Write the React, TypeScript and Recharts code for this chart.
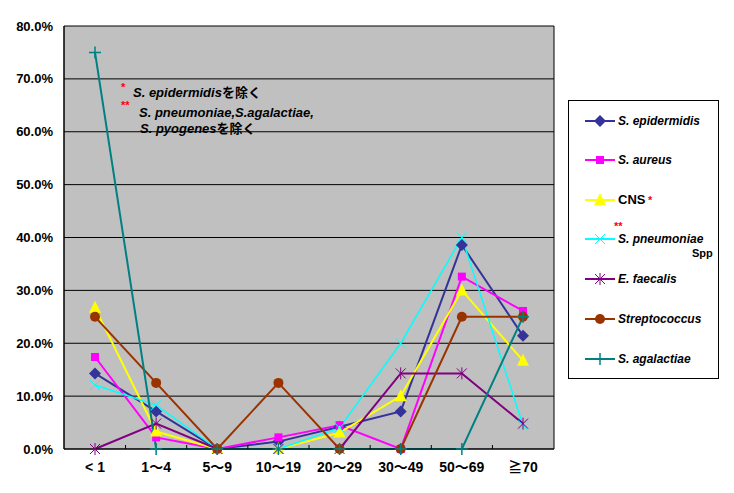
import React from 'react';
import { LineChart, Line, XAxis, YAxis, CartesianGrid } from 'recharts';

const categories = ['< 1', '1～4', '5～9', '10～19', '20～29', '30～49', '50～69', '≧70'];
const yTicks = [0, 10, 20, 30, 40, 50, 60, 70, 80];

const epidermidis = [14.3, 7.1, 0, 1.4, 4.2, 7.1, 38.6, 21.4];
const aureus = [17.4, 2.2, 0, 2.2, 4.5, 0, 32.6, 26.1];
const cns = [26.7, 3.3, 0, 0, 3.1, 10.0, 30.0, 16.7];
const pneumoniae = [12.1, 8.3, 0, 0, 4.0, 20.0, 40.0, 4.5];
const faecalis = [0, 4.8, 0, 0, 0, 14.3, 14.3, 4.8];
const streptococcus = [25, 12.5, 0, 12.5, 0, 0, 25, 25];
const agalactiae = [75, 0, 0, 0, 0, 0, 0, 25];

const data = categories.map((name, i) => ({
  name,
  epidermidis: epidermidis[i],
  aureus: aureus[i],
  cns: cns[i],
  pneumoniae: pneumoniae[i],
  faecalis: faecalis[i],
  streptococcus: streptococcus[i],
  agalactiae: agalactiae[i],
}));

type Shape = 'diamond' | 'square' | 'triangle' | 'x' | 'star' | 'circle' | 'plus';

const series: { key: string; color: string; shape: Shape; width: number }[] = [
  { key: 'epidermidis', color: '#333399', shape: 'diamond', width: 2 },
  { key: 'aureus', color: '#FF00FF', shape: 'square', width: 2 },
  { key: 'cns', color: '#FFFF00', shape: 'triangle', width: 2 },
  { key: 'pneumoniae', color: '#00FFFF', shape: 'x', width: 1.5 },
  { key: 'faecalis', color: '#800080', shape: 'star', width: 2 },
  { key: 'streptococcus', color: '#993300', shape: 'circle', width: 2 },
  { key: 'agalactiae', color: '#008080', shape: 'plus', width: 2 },
];

const PAD = 31;
const TICK_MARGIN = 13;

function marker(shape: Shape, color: string, cx: number, cy: number, key?: string) {
  switch (shape) {
    case 'diamond':
      return <path key={key} d={`M${cx} ${cy - 6}L${cx + 6} ${cy}L${cx} ${cy + 6}L${cx - 6} ${cy}Z`} fill={color} />;
    case 'square':
      return <rect key={key} x={cx - 4} y={cy - 4} width={8} height={8} fill={color} />;
    case 'triangle':
      return <path key={key} d={`M${cx} ${cy - 7}L${cx + 6} ${cy + 5}L${cx - 6} ${cy + 5}Z`} fill={color} />;
    case 'circle':
      return <circle key={key} cx={cx} cy={cy} r={5} fill={color} />;
    case 'x':
      return (
        <path key={key} d={`M${cx - 5} ${cy - 5}L${cx + 5} ${cy + 5}M${cx + 5} ${cy - 5}L${cx - 5} ${cy + 5}`} stroke={color} strokeWidth={1} />
      );
    case 'star':
      return (
        <path
          key={key}
          d={`M${cx - 5} ${cy - 5}L${cx + 5} ${cy + 5}M${cx + 5} ${cy - 5}L${cx - 5} ${cy + 5}M${cx} ${cy - 6}L${cx} ${cy + 6}`}
          stroke={color}
          strokeWidth={1}
        />
      );
    case 'plus':
      return (
        <path key={key} d={`M${cx - 6} ${cy}L${cx + 6} ${cy}M${cx} ${cy - 6}L${cx} ${cy + 6}`} stroke={color} strokeWidth={1.5} />
      );
  }
}

const makeDot = (shape: Shape, color: string) => (props: any) => {
  const { cx, cy, index } = props;
  if (cx == null || cy == null) return <g key={`e-${index}`} />;
  return marker(shape, color, cx, cy, `${shape}-${index}`);
};

const font = '"Liberation Sans", "Noto Sans CJK JP", sans-serif';

// category label plus Excel-style inner tick mark between categories
const CategoryTick = (props: any) => {
  const { x, y, payload, index, width, visibleTicksCount } = props;
  const half = (width - 2 * PAD) / (visibleTicksCount - 1) / 2;
  const axisY = y - TICK_MARGIN;
  return (
    <g>
      {index < visibleTicksCount - 1 && (
        <line x1={x + half} x2={x + half} y1={axisY} y2={axisY - 4} stroke="#000" />
      )}
      <text x={x} y={y} dy="0.71em" textAnchor="middle" fill="#000" fontSize={14} fontWeight="bold" fontFamily={font}>
        {payload.value}
      </text>
    </g>
  );
};

const legendItems = [
  { label: 'S. epidermidis', italic: true, cy: 121 },
  { label: 'S. aureus', italic: true, cy: 160 },
  { label: 'CNS', italic: false, cy: 200 },
  { label: 'S. pneumoniae', italic: true, cy: 239 },
  { label: 'E. faecalis', italic: true, cy: 279 },
  { label: 'Streptococcus', italic: true, cy: 319 },
  { label: 'S. agalactiae', italic: true, cy: 359 },
];

export default function App() {
  return (
    <div style={{ position: 'absolute', left: 0, top: 0, width: 734, height: 493, background: '#fff' }}>
      <LineChart width={734} height={493} data={data} margin={{ top: 26, right: 180, bottom: 0, left: 0 }}>
        <CartesianGrid
          stroke="#000"
          fill="#C0C0C0"
          fillOpacity={1}
          verticalCoordinatesGenerator={({ offset }: any) => [offset.left, offset.left + offset.width]}
        />
        <XAxis
          dataKey="name"
          height={44}
          padding={{ left: PAD, right: PAD }}
          axisLine={{ stroke: '#000' }}
          tickLine={false}
          tickSize={0}
          tickMargin={TICK_MARGIN}
          interval={0}
          tick={<CategoryTick />}
        />
        <YAxis
          width={64}
          domain={[0, 80]}
          ticks={yTicks}
          axisLine={{ stroke: '#000' }}
          tickLine={false}
          tickSize={0}
          tickMargin={11}
          tickFormatter={(v: number) => `${v.toFixed(1)}%`}
          tick={{ fill: '#000', fontSize: 13, fontWeight: 'bold', fontFamily: font }}
        />
        {series.map((s) => (
          <Line
            key={s.key}
            type="linear"
            dataKey={s.key}
            stroke={s.color}
            strokeWidth={s.width}
            dot={makeDot(s.shape, s.color)}
            activeDot={false}
            isAnimationActive={false}
          />
        ))}
      </LineChart>
      <svg width={734} height={493} style={{ position: 'absolute', left: 0, top: 0, pointerEvents: 'none' }}>
        <g fontFamily={font} fontWeight="bold" fill="#000">
          <text x={121} y={91} fill="#FF0000" fontSize={11}>*</text>
          <text x={133} y={97} fontSize={13}>
            <tspan fontStyle="italic">S. epidermidis</tspan>を除く
          </text>
          <text x={121} y={109} fill="#FF0000" fontSize={11}>**</text>
          <text x={139} y={117} fontSize={13} fontStyle="italic">S. pneumoniae,S.agalactiae,</text>
          <text x={140} y={133} fontSize={13}>
            <tspan fontStyle="italic">S. pyogenes</tspan>を除く
          </text>
        </g>
        <rect x={568.5} y={100.5} width={150} height={278} fill="#fff" stroke="#000" strokeWidth={1} />
        {legendItems.map((item, i) => (
          <g key={item.label}>
            <line x1={585} x2={615} y1={item.cy} y2={item.cy} stroke={series[i].color} strokeWidth={2} />
            {marker(series[i].shape, series[i].color, 600, item.cy)}
            <text
              x={618}
              y={item.cy + 4}
              fontFamily={font}
              fontWeight="bold"
              fontStyle={item.italic ? 'italic' : 'normal'}
              fontSize={item.italic ? 12 : 13}
              fill="#000"
            >
              {item.label}
            </text>
          </g>
        ))}
        <g fontFamily={font} fontWeight="bold">
          <text x={648} y={204} fill="#FF0000" fontSize={11}>*</text>
          <text x={614} y={230} fill="#FF0000" fontSize={11}>**</text>
          <text x={692} y={257} fill="#000" fontSize={11}>Spp</text>
        </g>
      </svg>
    </div>
  );
}
